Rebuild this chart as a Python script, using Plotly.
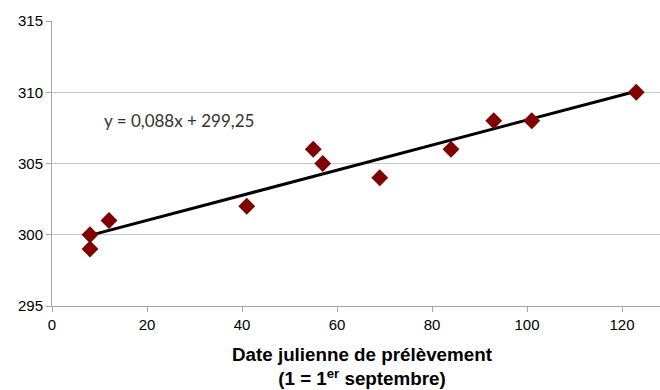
import plotly.graph_objects as go

# Sample dates (Julian day, 1 = 1st September) and measured values
jours = [8, 8, 12, 41, 55, 57, 69, 84, 93, 101, 123]
valeurs = [300, 299, 301, 302, 306, 305, 304, 306, 308, 308, 310]

# Linear trend
pente = 0.088
ordonnee = 299.25
x_tendance = [min(jours), max(jours)]
y_tendance = [pente * x + ordonnee for x in x_tendance]
equation = "y = 0,088x + 299,25"
titre_x = "<b>Date julienne de prélèvement<br>(1 = 1<sup>er</sup> septembre)</b>"

x_ticks = [0, 20, 40, 60, 80, 100, 120]
y_ticks = [295, 300, 305, 310, 315]

fig = go.Figure()
fig.add_trace(go.Scatter(
    x=x_tendance, y=y_tendance, mode="lines",
    line=dict(color="black", width=3), hoverinfo="skip", showlegend=False,
))
fig.add_trace(go.Scatter(
    x=jours, y=valeurs, mode="markers",
    marker=dict(symbol="diamond", size=13, color="#800000"),
    showlegend=False,
))

fig.add_annotation(
    x=26.8, y=308.0, xref="x", yref="y", text=equation, showarrow=False,
    font=dict(family="Lato", size=17, color="#333333"),
)

# X-axis title, centred under the full chart width
fig.add_annotation(
    x=0.51, y=-0.128, xref="paper", yref="paper", text=titre_x,
    showarrow=False, xanchor="center", yanchor="top",
    font=dict(size=18.8, family="Liberation Sans, Arial", color="black"),
)

fig.update_layout(
    width=660, height=390,
    margin=dict(l=52, r=0, t=21, b=84),
    paper_bgcolor="white", plot_bgcolor="white",
    font=dict(family="Liberation Sans, Arial", size=15, color="black"),
    xaxis=dict(
        range=[0, 128], tickvals=x_ticks, showgrid=False, zeroline=False,
        showline=True, linecolor="#a6a6a6", linewidth=1,
        ticks="outside", ticklen=5, tickcolor="#a6a6a6",
    ),
    yaxis=dict(
        range=[295, 315], tickvals=y_ticks, showgrid=True, gridcolor="#c8c8c8",
        gridwidth=1, zeroline=False, showline=True, linecolor="#a6a6a6",
        linewidth=1, ticks="outside", ticklen=5, tickcolor="#a6a6a6",
    ),
)

fig.write_html("out.html")
